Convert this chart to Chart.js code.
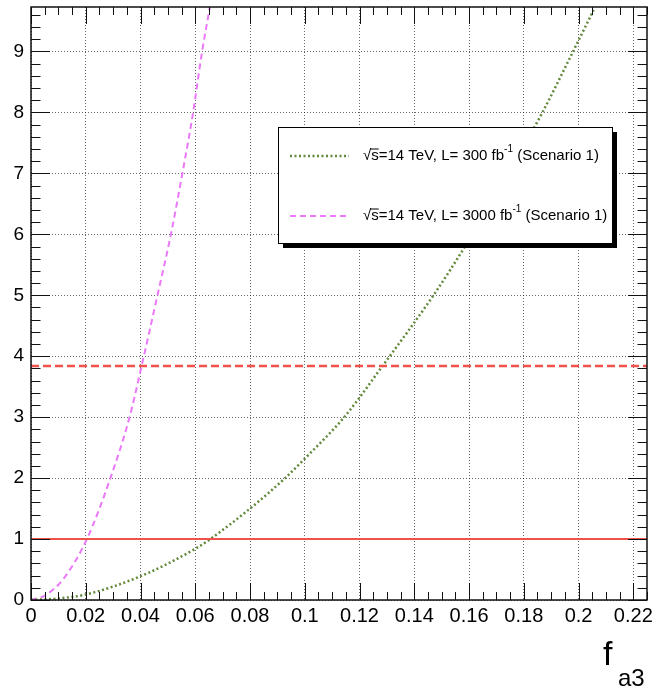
<!DOCTYPE html>
<html>
<head>
<meta charset="utf-8">
<script src="https://cdn.jsdelivr.net/npm/chart.js@4.4.1/dist/chart.umd.min.js"></script>
<style>
html, body { margin: 0; padding: 0; background: #fff; }
</style>
</head>
<body>
<canvas id="myChart" width="661" height="686"></canvas>
<script>
// values
const fa3_300 = [0, 0.01, 0.02, 0.04, 0.06, 0.0655, 0.08, 0.0928, 0.1, 0.1144, 0.1284, 0.147, 0.1585, 0.1735, 0.1868, 0.198, 0.2055];
const nll_300 = [0, 0.025, 0.09, 0.39, 0.84, 1.0, 1.5, 2.0, 2.32, 3.0, 3.84, 5.0, 5.8, 6.95, 8.0, 9.0, 9.68];
const fa3_3000 = [0, 0.0051, 0.0119, 0.0204, 0.029, 0.036, 0.0404, 0.0462, 0.0511, 0.0553, 0.0592, 0.0625, 0.0653];
const nll_3000 = [0, 0.074, 0.35, 1.0, 2.0, 3.0, 3.84, 5.0, 6.0, 7.0, 8.0, 9.0, 9.72];
const levels = [1, 3.84];
const xTicks = [0, 0.02, 0.04, 0.06, 0.08, 0.1, 0.12, 0.14, 0.16, 0.18, 0.2, 0.22];
const yTicks = [0, 1, 2, 3, 4, 5, 6, 7, 8, 9];
const legendLumi = ['300', '3000'];

const xMax = 0.225, yMax = 9.73;
const FONT = "'Liberation Sans', Arial, Helvetica, sans-serif";
const green = '#62883a', magenta = '#ea78f8', red = '#f0514a';

const pts = (xs, ys) => xs.map((x, i) => ({x: x, y: ys[i]}));

// ROOT-like frame with inward ticks on all four sides
const framePlugin = {
    id: 'frame',
    afterDatasetsDraw(chart) {
        const {ctx, chartArea: a, scales: {x, y}} = chart;
        ctx.save();
        ctx.strokeStyle = '#111';
        ctx.lineWidth = 1;
        ctx.beginPath();
        for (let i = 0; i * 0.005 <= xMax + 1e-9; i++) {
            const px = Math.round(x.getPixelForValue(i * 0.005)) + 0.5;
            const len = i % 4 === 0 ? 17 : 8;
            ctx.moveTo(px, a.bottom); ctx.lineTo(px, a.bottom - len);
            ctx.moveTo(px, a.top); ctx.lineTo(px, a.top + len);
        }
        for (let i = 0; i * 0.2 <= yMax + 1e-9; i++) {
            const py = Math.round(y.getPixelForValue(i * 0.2)) + 0.5;
            const len = i % 5 === 0 ? 19 : 9.5;
            ctx.moveTo(a.left, py); ctx.lineTo(a.left + len, py);
            ctx.moveTo(a.right, py); ctx.lineTo(a.right - len, py);
        }
        ctx.stroke();
        ctx.lineWidth = 1.5;
        ctx.strokeRect(a.left, a.top, a.right - a.left, a.bottom - a.top);
        ctx.restore();
    },
    afterDraw(chart) {
        const ctx = chart.ctx;
        ctx.save();
        // legend box with shadow
        const bx = 278, by = 127, bw = 334, bh = 116;
        ctx.fillStyle = '#000';
        ctx.fillRect(bx + 5, by + 5, bw, bh);
        ctx.fillStyle = '#fff';
        ctx.fillRect(bx, by, bw, bh);
        ctx.strokeStyle = '#000';
        ctx.lineWidth = 1;
        ctx.strokeRect(bx + 0.5, by + 0.5, bw, bh);

        const rows = [
            {y: 156, color: green, dash: [2, 2.5], width: 2.5},
            {y: 216, color: magenta, dash: [6, 4], width: 2}
        ];
        rows.forEach((r, i) => {
            ctx.strokeStyle = r.color;
            ctx.lineWidth = r.width;
            ctx.setLineDash(r.dash);
            ctx.beginPath();
            ctx.moveTo(290, r.y); ctx.lineTo(349, r.y);
            ctx.stroke();
            ctx.setLineDash([]);

            let tx = 363;
            ctx.fillStyle = '#000';
            ctx.textBaseline = 'middle';
            ctx.font = '15px ' + FONT;
            const rootW = ctx.measureText('√').width;
            const sW = ctx.measureText('s').width;
            const s1 = '√s=14 TeV, L= ' + legendLumi[i] + ' fb';
            ctx.fillText(s1, tx, r.y);
            ctx.strokeStyle = '#000';
            ctx.lineWidth = 1;
            ctx.beginPath();
            ctx.moveTo(tx + rootW - 1, r.y - 7); ctx.lineTo(tx + rootW + sW, r.y - 7);
            ctx.stroke();
            tx += ctx.measureText(s1).width;
            ctx.font = '10px ' + FONT;
            ctx.fillText('-1', tx, r.y - 7);
            tx += ctx.measureText('-1').width;
            ctx.font = '15px ' + FONT;
            ctx.fillText(' (Scenario 1)', tx, r.y);
        });

        // axis title
        ctx.fillStyle = '#000';
        ctx.textBaseline = 'alphabetic';
        ctx.font = '34px ' + FONT;
        ctx.fillText('f', 603, 665);
        ctx.font = '24px ' + FONT;
        ctx.fillText('a3', 618, 686);
        ctx.restore();
    }
};

const ctx = document.getElementById('myChart').getContext('2d');
const myChart = new Chart(ctx, {
    type: 'line',
    data: {
        datasets: [
            {
                data: pts([0, xMax], [levels[0], levels[0]]),
                borderColor: red, borderWidth: 2, pointRadius: 0
            },
            {
                data: pts([0, xMax], [levels[1], levels[1]]),
                borderColor: red, borderWidth: 2.5, borderDash: [8, 4], pointRadius: 0
            },
            {
                data: pts(fa3_300, nll_300),
                borderColor: green, borderWidth: 2.5, borderDash: [2, 2.5],
                pointRadius: 0, cubicInterpolationMode: 'monotone'
            },
            {
                data: pts(fa3_3000, nll_3000),
                borderColor: magenta, borderWidth: 2, borderDash: [6, 4],
                pointRadius: 0, cubicInterpolationMode: 'monotone'
            }
        ]
    },
    options: {
        responsive: false,
        animation: false,
        events: [],
        layout: { padding: { top: 7, right: 14, left: 0, bottom: 0 } },
        plugins: { legend: { display: false }, tooltip: { enabled: false } },
        scales: {
            x: {
                type: 'linear', min: 0, max: xMax,
                afterBuildTicks: s => { s.ticks = xTicks.map(v => ({value: v})); },
                afterFit: s => { s.height = 86; s.paddingLeft = 0; s.paddingRight = 0; },
                ticks: {
                    autoSkip: false, maxRotation: 0, padding: 4, color: '#000',
                    font: { family: FONT, size: 20 },
                    callback: v => String(Number(v.toFixed(2)))
                },
                grid: { color: 'rgba(0,0,0,0.6)', lineWidth: 1, drawTicks: false },
                border: { display: false, dash: [1, 2] }
            },
            y: {
                type: 'linear', min: 0, max: yMax,
                afterBuildTicks: s => { s.ticks = yTicks.map(v => ({value: v})); },
                afterFit: s => { s.width = 31; s.paddingTop = 0; s.paddingBottom = 0; },
                ticks: {
                    padding: 7, color: '#000',
                    font: { family: FONT, size: 19 }
                },
                grid: { color: 'rgba(0,0,0,0.6)', lineWidth: 1, drawTicks: false },
                border: { display: false, dash: [1, 2] }
            }
        }
    },
    plugins: [framePlugin]
});
</script>
</body>
</html>
